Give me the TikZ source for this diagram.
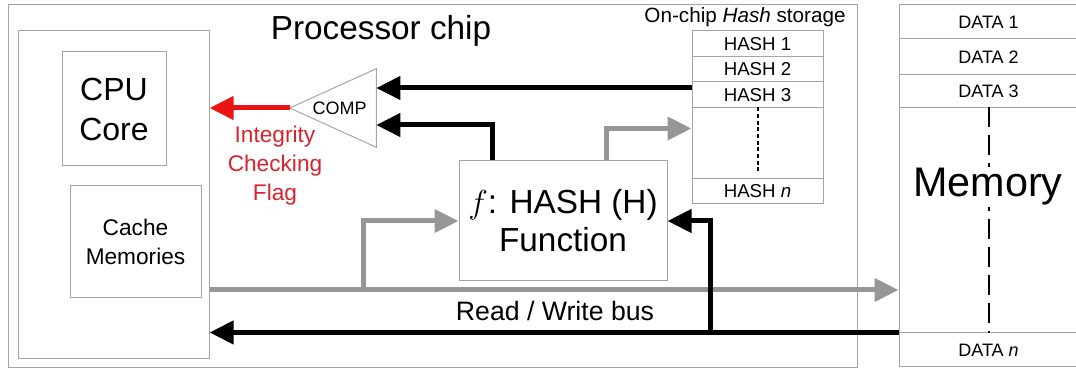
\documentclass[tikz,border=0pt]{standalone}
\usepackage{fontspec}
\setmainfont{Liberation Sans}
\usepackage{tikz}
\usetikzlibrary{arrows.meta,positioning,fit,calc}
\definecolor{frame}{RGB}{165,165,165}
\definecolor{busgray}{RGB}{150,150,150}
\definecolor{flag}{RGB}{235,20,20}
\definecolor{flagtext}{RGB}{215,35,45}
\newcommand{\fsz}[2]{\fontsize{#1}{#2}\selectfont}

\begin{document}
\begin{tikzpicture}[x=0.75pt, y=-0.75pt,
  box/.style={draw=frame, line width=0.75pt, inner sep=0pt},
  blk/.style={line width=3.75pt, -{Triangle[length=18pt,width=17pt]}},
  gry/.style={blk, busgray},
  every node/.style={font=\fsz{14pt}{17pt}},
  every label/.style={align=center}]
\useasboundingbox (0,0) rectangle (1076,370);
% ---- processor chip
\node[box, fit={(8,5) (857,368)}] (chip) {};
\node[font=\fsz{25pt}{30pt}] (chiplabel) at (381,31) {Processor chip};
\node[box, fit={(18,31) (209,359)}] (cpuside) {};
\node[box, fit={(62,52) (166,166)},
  label={[font=\fsz{24pt}{30pt}]center:{CPU\\Core}}] (core) {};
\node[box, fit={(70,186) (201,298)},
  label={[font=\fsz{17pt}{22pt}]center:{Cache\\Memories}}] (cache) {};
% ---- comparator and flag
\node[fit={(290,69) (376,147)}, inner sep=0pt,
  label={[xshift=5pt, font=\fsz{13.5pt}{16pt}]center:COMP}] (comp) {};
\draw[frame, line width=0.75pt] (comp.west) -- (comp.north east) -- (comp.south east) -- cycle;
\draw[blk, flag] (comp.west) -- (comp.west -| cpuside.east);
\node[flagtext, align=center, font=\fsz{17pt}{21.75pt}] (flaglabel) at (275,166)
  {Integrity\\Checking\\Flag};
% ---- hash function
\node[box, fit={(459,161) (667,281)},
  label={[font=\fsz{25pt}{28.5pt}]center:{$f$: HASH (H)\\Function}}] (hashfn) {};
% ---- on-chip hash storage
\node[font=\fsz{15.5pt}{18pt}] (storelabel) at (745,17) {On-chip \textit{Hash} storage};
\node[box, fit={(692,31) (823,57)}, label=center:HASH 1] (h1) {};
\node[box, fit={(692,57) (823,82)}, label=center:HASH 2] (h2) {};
\node[box, fit={(692,82) (823,108)}, label=center:HASH 3] (h3) {};
\node[box, fit={(692,108) (823,179)}] (hgap) {};
\node[box, fit={(692,179) (823,204)}, label={center:HASH \textit{n}}] (hn) {};
\coordinate (hdots) at ($(hn.north)+(0,-6)$);
\draw[line width=1.5pt, dash pattern=on 3pt off 2pt] (hgap.north) -- (hdots);
% ---- off-chip memory
\tikzset{every label/.append style={font=\fsz{13.5pt}{16pt}}}
\node[box, fit={(899,5) (1078,39)}, label=center:DATA 1] (d1) {};
\node[box, fit={(899,39) (1078,75)}, label=center:DATA 2] (d2) {};
\node[box, fit={(899,75) (1078,108)}, label=center:DATA 3] (d3) {};
\node[box, fit={(899,108) (1078,333)}] (dmid) {};
\node[box, fit={(899,333) (1078,367)}, label={center:DATA \textit{n}}] (dn) {};
\draw[line width=1.5pt, dash pattern=on 15pt off 6pt] (dmid.north) -- (dmid.south);
\node[fill=white, inner sep=1pt, font=\fsz{31pt}{36pt}] (memlabel) at (988,187) {Memory};
% ---- read / write bus
\coordinate (busw) at ($(cpuside.east)+(0,95)$);
\draw[gry] (busw) -- (busw -| dmid.west);
\draw[gry] (363,0 |- busw) |- (hashfn.west);
\draw[blk] (dn.north west) -- (dn.north west -| cpuside.east);
\draw[blk] (710,0 |- dn.north) |- (hashfn.east);
\node[font=\fsz{20pt}{24pt}] (buslabel) at (555,311) {Read / Write bus};
% ---- hash paths to comparator and storage
\coordinate (h3tap) at ($(h3.west)+(0,-7)$);
\draw[blk] (h3tap) -- (h3tap -| comp.east);
\draw[blk] ($(hashfn.north)+(-71,0)$) |- ($(comp.east)+(0,17)$);
\draw[gry] ($(hashfn.north)+(43,0)$) |- ($(hgap.west)+(0,-15)$);
\end{tikzpicture}
\end{document}
